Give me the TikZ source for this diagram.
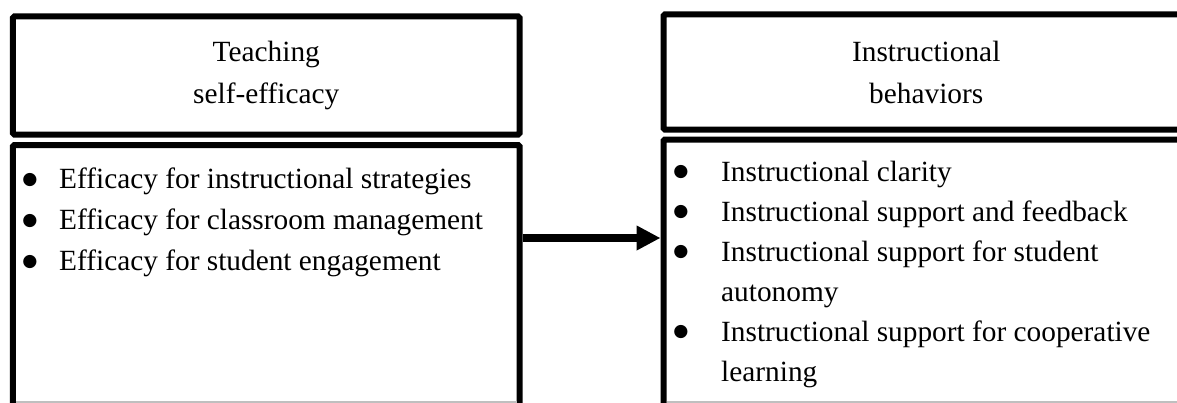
\documentclass[tikz,border=0pt]{standalone}
\usepackage{fontspec}
\setmainfont{Liberation Serif}
\newfontfamily\dotfont{DejaVu Sans}
\usetikzlibrary{positioning,arrows.meta}

\tikzset{
  box/.style={draw, line width=4.5pt, rounded corners=1pt, inner sep=0pt},
  flow/.style={line width=6.5pt, -{Triangle[length=18pt,width=17.5pt]}},
  cutline/.style={black!25, line width=0.8pt, shorten <=4.5pt, shorten >=4.5pt},
  list/.style={inner sep=0pt, align=left, anchor=north west},
}
\newcommand{\bigdot}{\raisebox{3.6pt}{\dotfont\fontsize{13}{13}\selectfont ●}}
\newcommand{\bitem}[2]{\makebox[#1][l]{\bigdot}#2}

\begin{document}
\begin{tikzpicture}[x=0.75pt, y=-0.75pt, font=\fontsize{22}{30}\selectfont]
  % the figure is cut off at the bottom
  \useasboundingbox (0,0) rectangle (1177,403);
  \clip (0,0) rectangle (1177,403);

  % left: teaching self-efficacy
  \node[box, minimum width=379.9pt, minimum height=88.5pt, align=center,
        font=\fontsize{22}{31.5}\selectfont] (lhead) at (266.25,75.5) {Teaching\\self-efficacy};
  \node[box, minimum width=379.9pt, minimum height=213.75pt, below=3.4pt of lhead] (lbody) {};
  \node[list, font=\fontsize{22}{30.75}\selectfont] (llist) at (22,168) {%
    \bitem{27.7pt}{Efficacy for instructional strategies}\\
    \bitem{27.7pt}{Efficacy for classroom management}\\
    \bitem{27.7pt}{Efficacy for student engagement}};

  % right: instructional behaviors
  \node[box, minimum width=394.1pt, minimum height=86.25pt, align=center,
        font=\fontsize{22}{31.5}\selectfont] (rhead) at (926.25,72) {Instructional\\behaviors};
  \node[box, minimum width=394.1pt, minimum height=217.9pt, below=3pt of rhead] (rbody) {};
  \node[list] (rlist) at (673,161) {%
    \bitem{35.95pt}{Instructional clarity}\\
    \bitem{35.95pt}{Instructional support and feedback}\\
    \bitem{35.95pt}{Instructional support for student}\\
    \hspace*{35.95pt}autonomy\\
    \bitem{35.95pt}{Instructional support for cooperative}\\
    \hspace*{35.95pt}learning};

  % bottom edge where the boxes are cut
  \coordinate (cut) at (0,402);
  \draw[cutline] (lbody.west |- cut) -- (lbody.east |- cut);
  \draw[cutline] (rbody.west |- cut) -- (rbody.east |- cut);

  % arrow
  \coordinate (arrowy) at (0,238);
  \draw[flow] (lbody.east |- arrowy) -- (rbody.west |- arrowy);
\end{tikzpicture}
\end{document}
